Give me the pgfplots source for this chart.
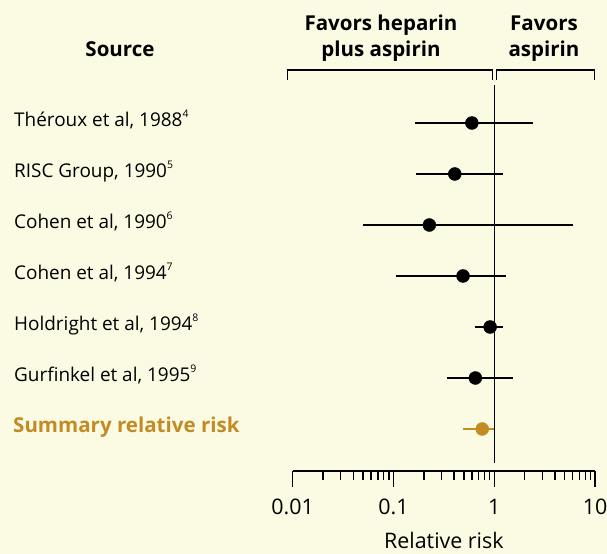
\documentclass[border=0pt]{standalone}
\usepackage{pgfplots}
\pgfplotsset{compat=1.18}
\usepackage{fontspec}
\setmainfont{Open Sans}
\definecolor{bg}{HTML}{FBFBE4}
\definecolor{gold}{HTML}{C38B24}
\newcommand{\lab}{\fontsize{19}{23}\selectfont}
\newcommand{\hdr}{\fontsize{20.6}{25}\selectfont\bfseries}
\newcommand{\botfont}{\fontsize{21.5}{26}\selectfont}
\newcommand{\sups}[1]{\raisebox{0.52em}{\fontsize{10.5}{12}\selectfont #1}}
\begin{document}
\begin{tikzpicture}[x=1bp,y=1bp]
\fill[bg] (0,0) rectangle (607,554);
\useasboundingbox (0,0) rectangle (607,554);
% headers
\node[anchor=base,font=\hdr] at (120,{554-57}) {Source};
\node[anchor=base,font=\hdr] at (381,{554-31}) {Favors heparin};
\node[anchor=base,font=\hdr] at (381,{554-57}) {plus aspirin};
\node[anchor=base,font=\hdr] at (544,{554-31}) {Favors};
\node[anchor=base,font=\hdr] at (544,{554-57}) {aspirin};
% row labels
\node[anchor=base west,font=\lab,inner sep=0] at (14,{554-127}) {Théroux et al, 1988\sups{4}};
\node[anchor=base west,font=\lab,inner sep=0] at (14,{554-178}) {RISC Group, 1990\sups{5}};
\node[anchor=base west,font=\lab,inner sep=0] at (14,{554-229}) {Cohen et al, 1990\sups{6}};
\node[anchor=base west,font=\lab,inner sep=0] at (14,{554-280}) {Cohen et al, 1994\sups{7}};
\node[anchor=base west,font=\lab,inner sep=0] at (14,{554-331}) {Holdright et al, 1994\sups{8}};
\node[anchor=base west,font=\lab,inner sep=0] at (14,{554-382}) {Gurfinkel et al, 1995\sups{9}};
\node[anchor=base west,font=\hdr,inner sep=0,text=gold] at (13,{554-433}) {Summary relative risk};
\begin{axis}[
  at={(292.7bp,83bp)}, anchor=south west,
  scale only axis, width=302.3bp, height=386bp,
  xmode=log, xmin=0.01, xmax=10,
  ymin=0.1765, ymax=7.7451,
  axis x line*=bottom, axis y line=none,
  clip=false,
  axis line style={line width=1.4bp, black, -},
  xtick={0.01,0.1,1,10},
  xticklabels={0.01,0.1,1,10},
  minor xtick={0.02,0.03,0.04,0.05,0.06,0.07,0.08,0.09,0.2,0.3,0.4,0.5,0.6,0.7,0.8,0.9,2,3,4,5,6,7,8,9},
  tick align=outside,
  major tick length=16bp, minor tick length=9bp,
  major x tick style={line width=1.4bp, black},
  minor x tick style={line width=1.4bp, black},
  xticklabel style={font=\botfont, anchor=base, yshift=-27bp},
  xlabel={Relative risk},
  xlabel style={font=\botfont, at={(axis description cs:0.5,0)}, anchor=base, yshift=-77bp},
  ytick=\empty,
]
% reference line at 1
\addplot[black, line width=1.4bp] coordinates {(1,0.3333) (1,7.7451)};
% brackets
\addplot[black, line width=1.4bp] coordinates {(0.0089,7.8431) (0.0089,8.0392) (0.955,8.0392) (0.955,7.8431)};
\addplot[black, line width=1.4bp] coordinates {(1.047,7.8431) (1.047,8.0392) (9.9,8.0392) (9.9,7.8431)};
% confidence intervals
\addplot[black, line width=1.8bp] coordinates {(0.164,7) (2.40,7)};
\addplot[black, line width=1.8bp] coordinates {(0.166,6) (1.23,6)};
\addplot[black, line width=1.8bp] coordinates {(0.050,5) (5.98,5)};
\addplot[black, line width=1.8bp] coordinates {(0.105,4) (1.32,4)};
\addplot[black, line width=1.8bp] coordinates {(0.65,3) (1.21,3)};
\addplot[black, line width=1.8bp] coordinates {(0.336,2) (1.54,2)};
\addplot[gold, line width=1.8bp] coordinates {(0.49,1) (1.0,1)};
% point estimates
\addplot[only marks, mark=*, mark size=6.5bp, black] coordinates {
 (0.60,7) (0.406,6) (0.227,5) (0.49,4) (0.91,3) (0.65,2)};
\addplot[only marks, mark=*, mark size=6.5bp, gold] coordinates {(0.76,1)};
\end{axis}
\end{tikzpicture}
\end{document}
